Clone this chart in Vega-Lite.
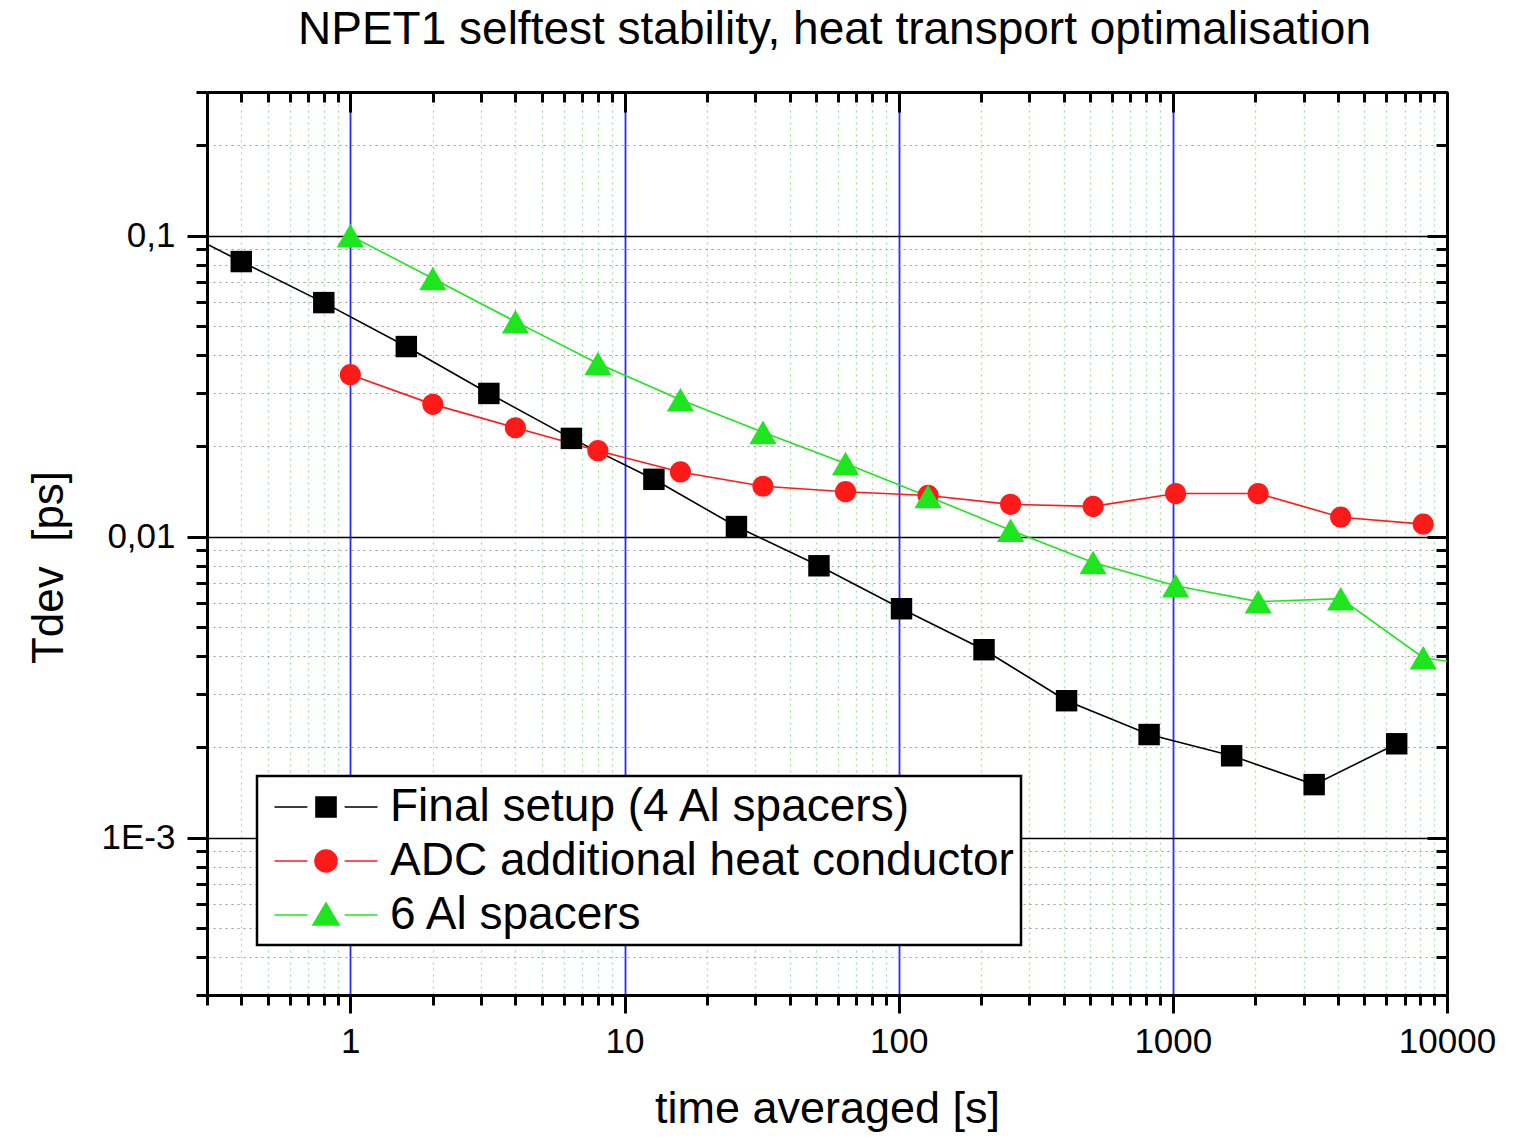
{
  "$schema": "https://vega.github.io/schema/vega-lite/v6.json",
  "autosize": "none",
  "width": 1240,
  "height": 903,
  "padding": {"left": 207, "top": 92, "right": 77, "bottom": 142},
  "background": "white",
  "config": {
    "view": {"stroke": null},
    "font": "Liberation Sans"
  },
  "data": {
    "values": [
      {"series": "Final setup (4 Al spacers)", "t": 0.2, "v": 0.113},
      {"series": "Final setup (4 Al spacers)", "t": 0.4, "v": 0.082},
      {"series": "Final setup (4 Al spacers)", "t": 0.8, "v": 0.0599},
      {"series": "Final setup (4 Al spacers)", "t": 1.6, "v": 0.0428},
      {"series": "Final setup (4 Al spacers)", "t": 3.2, "v": 0.0299},
      {"series": "Final setup (4 Al spacers)", "t": 6.4, "v": 0.0212},
      {"series": "Final setup (4 Al spacers)", "t": 12.8, "v": 0.0155},
      {"series": "Final setup (4 Al spacers)", "t": 25.6, "v": 0.0108},
      {"series": "Final setup (4 Al spacers)", "t": 51.2, "v": 0.0080},
      {"series": "Final setup (4 Al spacers)", "t": 102.4, "v": 0.00576},
      {"series": "Final setup (4 Al spacers)", "t": 204.8, "v": 0.00421},
      {"series": "Final setup (4 Al spacers)", "t": 409.6, "v": 0.00285},
      {"series": "Final setup (4 Al spacers)", "t": 819.2, "v": 0.00220},
      {"series": "Final setup (4 Al spacers)", "t": 1638.4, "v": 0.00187},
      {"series": "Final setup (4 Al spacers)", "t": 3276.8, "v": 0.00150},
      {"series": "Final setup (4 Al spacers)", "t": 6553.6, "v": 0.00205},
      {"series": "ADC additional heat conductor", "t": 1, "v": 0.0345},
      {"series": "ADC additional heat conductor", "t": 2, "v": 0.0275},
      {"series": "ADC additional heat conductor", "t": 4, "v": 0.0230},
      {"series": "ADC additional heat conductor", "t": 8, "v": 0.0193},
      {"series": "ADC additional heat conductor", "t": 16, "v": 0.0164},
      {"series": "ADC additional heat conductor", "t": 32, "v": 0.0147},
      {"series": "ADC additional heat conductor", "t": 64, "v": 0.0141},
      {"series": "ADC additional heat conductor", "t": 128, "v": 0.0137},
      {"series": "ADC additional heat conductor", "t": 256, "v": 0.0128},
      {"series": "ADC additional heat conductor", "t": 512, "v": 0.0126},
      {"series": "ADC additional heat conductor", "t": 1024, "v": 0.0139},
      {"series": "ADC additional heat conductor", "t": 2048, "v": 0.0139},
      {"series": "ADC additional heat conductor", "t": 4096, "v": 0.0116},
      {"series": "ADC additional heat conductor", "t": 8192, "v": 0.0110},
      {"series": "6 Al spacers", "t": 1, "v": 0.100},
      {"series": "6 Al spacers", "t": 2, "v": 0.072},
      {"series": "6 Al spacers", "t": 4, "v": 0.0518},
      {"series": "6 Al spacers", "t": 8, "v": 0.0376},
      {"series": "6 Al spacers", "t": 16, "v": 0.0285},
      {"series": "6 Al spacers", "t": 32, "v": 0.0222},
      {"series": "6 Al spacers", "t": 64, "v": 0.0175},
      {"series": "6 Al spacers", "t": 128, "v": 0.0136},
      {"series": "6 Al spacers", "t": 256, "v": 0.0105},
      {"series": "6 Al spacers", "t": 512, "v": 0.0082},
      {"series": "6 Al spacers", "t": 1024, "v": 0.00687},
      {"series": "6 Al spacers", "t": 2048, "v": 0.00608},
      {"series": "6 Al spacers", "t": 4096, "v": 0.00622},
      {"series": "6 Al spacers", "t": 8192, "v": 0.00396},
      {"series": "6 Al spacers", "t": 16384, "v": 0.0036}
    ]
  },
  "resolve": {"axis": {"x": "independent", "y": "independent"}},
  "layer": [
    {
      "transform": [{"filter": "datum.series == 'Final setup (4 Al spacers)'"}],
      "mark": {"type": "line", "strokeWidth": 1.6, "clip": true, "color": "#000000"},
      "encoding": {
        "x": {
          "field": "t", "type": "quantitative",
          "scale": {"type": "log", "domain": [0.3, 10000], "nice": false},
          "axis": {
            "orient": "bottom",
            "title": "time averaged [s]",
            "titleFont": "Liberation Sans", "titleFontSize": 45, "titleFontWeight": "normal", "titleColor": "black",
            "titlePadding": 27,
            "values": [0.3,0.4,0.5,0.6,0.7,0.8,0.9,1,2,3,4,5,6,7,8,9,10,20,30,40,50,60,70,80,90,100,200,300,400,500,600,700,800,900,1000,2000,3000,4000,5000,6000,7000,8000,9000,10000],
            "labelExpr": "(datum.value==1||datum.value==10||datum.value==100||datum.value==1000||datum.value==10000) ? format(datum.value,'d') : ''",
            "labelOverlap": false,
            "labelFlush": false,
            "labelBound": false,
            "labelFont": "Liberation Sans", "labelFontSize": 35, "labelColor": "black",
            "labelPadding": 11,
            "domainColor": "black", "domainWidth": 3,
            "tickColor": "black", "tickWidth": 3,
            "tickSize": {"condition": {"test": "datum.value==1||datum.value==10||datum.value==100||datum.value==1000||datum.value==10000", "value": 18}, "value": 10},
            "grid": true,
            "gridColor": {"condition": {"test": "datum.value==1||datum.value==10||datum.value==100||datum.value==1000||datum.value==10000", "value": "#2a2aff"}, "value": "#a0e0a0"},
            "gridDash": {"condition": {"test": "datum.value==1||datum.value==10||datum.value==100||datum.value==1000||datum.value==10000", "value": []}, "value": [2, 4]},
            "gridWidth": {"condition": {"test": "datum.value==1||datum.value==10||datum.value==100||datum.value==1000||datum.value==10000", "value": 1.8}, "value": 1.3}
          }
        },
        "y": {
          "field": "v", "type": "quantitative",
          "scale": {"type": "log", "domain": [0.0003, 0.3], "nice": false},
          "axis": {
            "orient": "left",
            "title": "Tdev\u00a0\u00a0[ps]",
            "titleFont": "Liberation Sans", "titleFontSize": 44, "titleFontWeight": "normal", "titleColor": "black",
            "titlePadding": 30, "titleY": 475,
            "values": [0.0003,0.0004,0.0005,0.0006,0.0007,0.0008,0.0009,0.001,0.002,0.003,0.004,0.005,0.006,0.007,0.008,0.009,0.01,0.02,0.03,0.04,0.05,0.06,0.07,0.08,0.09,0.1,0.2,0.3],
            "labelExpr": "datum.value==0.1 ? '0,1' : datum.value==0.01 ? '0,01' : datum.value==0.001 ? '1E-3' : ''",
            "labelOverlap": false,
            "labelFlush": false,
            "labelBound": false,
            "labelFont": "Liberation Sans", "labelFontSize": 35, "labelColor": "black",
            "labelPadding": 12,
            "domainColor": "black", "domainWidth": 3,
            "tickColor": "black", "tickWidth": 3,
            "tickSize": {"condition": {"test": "datum.value==0.1||datum.value==0.01||datum.value==0.001", "value": 20}, "value": 11},
            "grid": true,
            "gridColor": {"condition": {"test": "datum.value==0.1||datum.value==0.01||datum.value==0.001", "value": "#000000"}, "value": "#9a9a9a"},
            "gridDash": {"condition": {"test": "datum.value==0.1||datum.value==0.01||datum.value==0.001", "value": []}, "value": [2, 4]},
            "gridWidth": {"condition": {"test": "datum.value==0.1||datum.value==0.01||datum.value==0.001", "value": 1.5}, "value": 1.2}
          }
        }
      }
    },
    {
      "transform": [{"filter": "datum.series == 'ADC additional heat conductor'"}],
      "mark": {"type": "line", "strokeWidth": 1.6, "clip": true, "color": "#ff1a1a"},
      "encoding": {
        "x": {"field": "t", "type": "quantitative", "axis": null},
        "y": {"field": "v", "type": "quantitative", "axis": null}
      }
    },
    {
      "transform": [{"filter": "datum.series == '6 Al spacers'"}],
      "mark": {"type": "line", "strokeWidth": 1.6, "clip": true, "color": "#1ee61e"},
      "encoding": {
        "x": {"field": "t", "type": "quantitative", "axis": null},
        "y": {"field": "v", "type": "quantitative", "axis": null}
      }
    },
    {
      "transform": [{"filter": "datum.series == 'Final setup (4 Al spacers)'"}],
      "mark": {"type": "point", "shape": "square", "filled": true, "size": 460, "opacity": 1, "color": "#000000", "clip": true},
      "encoding": {
        "x": {
          "field": "t", "type": "quantitative",
          "axis": {
            "orient": "top",
            "title": "NPET1 selftest stability, heat transport optimalisation",
            "titleFont": "Liberation Sans", "titleFontSize": 46, "titleFontWeight": "normal", "titleColor": "black",
            "titlePadding": 37, "titleLimit": 3000, "titleX": 627,
            "labels": false, "grid": false,
            "values": [0.3,0.4,0.5,0.6,0.7,0.8,0.9,1,2,3,4,5,6,7,8,9,10,20,30,40,50,60,70,80,90,100,200,300,400,500,600,700,800,900,1000,2000,3000,4000,5000,6000,7000,8000,9000,10000],
            "domainColor": "black", "domainWidth": 3,
            "tickColor": "black", "tickWidth": 3,
            "tickSize": {"condition": {"test": "datum.value==1||datum.value==10||datum.value==100||datum.value==1000||datum.value==10000", "value": -20}, "value": -10}
          }
        },
        "y": {
          "field": "v", "type": "quantitative",
          "axis": {
            "orient": "right", "title": null, "labels": false, "grid": false,
            "values": [0.0003,0.0004,0.0005,0.0006,0.0007,0.0008,0.0009,0.001,0.002,0.003,0.004,0.005,0.006,0.007,0.008,0.009,0.01,0.02,0.03,0.04,0.05,0.06,0.07,0.08,0.09,0.1,0.2,0.3],
            "domainColor": "black", "domainWidth": 3,
            "tickColor": "black", "tickWidth": 3,
            "tickSize": {"condition": {"test": "datum.value==0.1||datum.value==0.01||datum.value==0.001", "value": -20}, "value": -11}
          }
        }
      }
    },
    {
      "transform": [{"filter": "datum.series == 'ADC additional heat conductor'"}],
      "mark": {"type": "point", "shape": "circle", "filled": true, "size": 450, "opacity": 1, "color": "#ff1a1a", "clip": true},
      "encoding": {
        "x": {"field": "t", "type": "quantitative", "axis": null},
        "y": {"field": "v", "type": "quantitative", "axis": null}
      }
    },
    {
      "transform": [{"filter": "datum.series == '6 Al spacers'"}],
      "mark": {"type": "point", "shape": "triangle-up", "filled": true, "size": 740, "opacity": 1, "color": "#1ee61e", "clip": true},
      "encoding": {
        "x": {"field": "t", "type": "quantitative", "axis": null},
        "y": {"field": "v", "type": "quantitative", "axis": null}
      }
    },
    {
      "transform": [{"filter": "datum.t < 0.3 || datum.t > 10000"}],
      "mark": {"type": "point", "filled": true, "strokeWidth": 1.6, "size": 2116, "opacity": 0, "clip": true},
      "encoding": {
        "x": {"field": "t", "type": "quantitative", "axis": null},
        "y": {"field": "v", "type": "quantitative", "axis": null},
        "fill": {
          "field": "series", "type": "nominal",
          "scale": {"domain": ["Final setup (4 Al spacers)", "ADC additional heat conductor", "6 Al spacers"], "range": ["#000000", "#ff1a1a", "#1ee61e"]},
          "legend": {
            "title": null,
            "orient": "bottom-left", "offset": 50,
            "fillColor": "white", "strokeColor": "black",
            "padding": 7,
            "labelFont": "Liberation Sans", "labelFontSize": 46, "labelColor": "black",
            "labelLimit": 2000, "labelOffset": 40,
            "rowPadding": 7, "symbolOffset": 38,
            "symbolSize": 2116, "symbolStrokeWidth": 1.6, "symbolOpacity": 1,
            "encode": {
              "symbols": {"update": {"opacity": {"value": 1}}},
              "legend": {"update": {"strokeWidth": {"value": 2.5}}}
            }
          }
        },
        "stroke": {
          "field": "series", "type": "nominal",
          "scale": {"domain": ["Final setup (4 Al spacers)", "ADC additional heat conductor", "6 Al spacers"], "range": ["#000000", "#ff1a1a", "#1ee61e"]}
        },
        "shape": {
          "field": "series", "type": "nominal",
          "scale": {
            "domain": ["Final setup (4 Al spacers)", "ADC additional heat conductor", "6 Al spacers"],
            "range": [
              "M-2.24,0L-0.81,0M0.81,0L2.24,0M-0.435,-0.435L0.435,-0.435L0.435,0.435L-0.435,0.435Z",
              "M-2.24,0L-0.81,0M0.81,0L2.24,0M-0.478,0A0.478,0.478,0,1,0,0.478,0A0.478,0.478,0,1,0,-0.478,0Z",
              "M-2.24,0L-0.81,0M0.81,0L2.24,0M0,-0.52L0.565,0.435L-0.565,0.435Z"
            ]
          }
        }
      }
    }
  ]
}
